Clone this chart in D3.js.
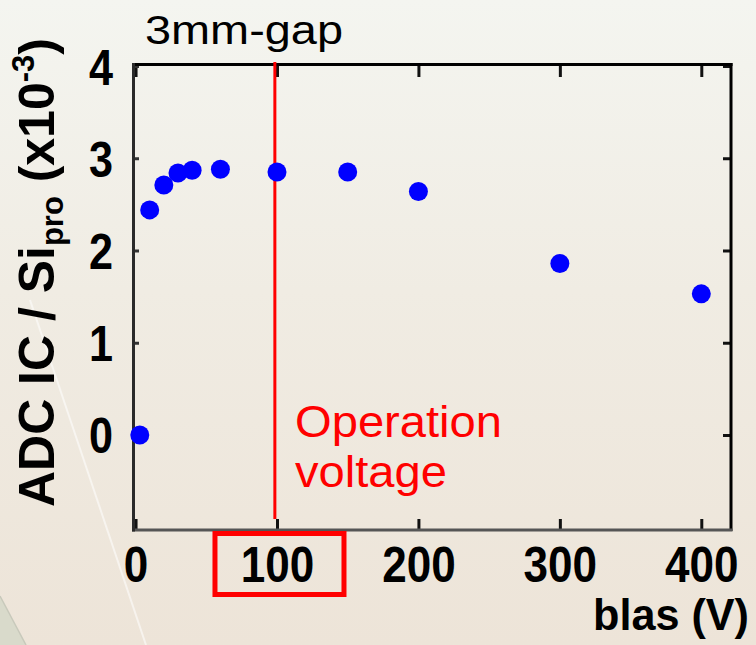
<!DOCTYPE html>
<html>
<head>
<meta charset="utf-8">
<script src="https://cdn.jsdelivr.net/npm/d3@7"></script>
<style>
  html, body { margin: 0; padding: 0; background: #efebe2; }
  svg { display: block; }
  text { font-family: "Liberation Sans", Arial, Helvetica, sans-serif; }
</style>
</head>
<body>
<svg id="chart" width="756" height="645"></svg>
<script>
// Bias scan of the ADC IC signal normalised to the Si reference (3 mm gap)
const biasVolts = [3, 10, 20, 30, 40, 60, 100, 150, 200, 300, 400];
const adcRatio  = [0, 2.44, 2.71, 2.84, 2.87, 2.88, 2.85, 2.85, 2.64, 1.86, 1.53];
const xTickValues = [0, 100, 200, 300, 400];
const yTickValues = [0, 1, 2, 3, 4];
const operationVoltage = 98.5;
const highlightedTick = 100;

const W = 756, H = 645;
const svg = d3.select("#chart");

// background wash
const defs = svg.append("defs");
const grad = defs.append("linearGradient").attr("id", "bg")
  .attr("x1", 0).attr("y1", 0).attr("x2", 0).attr("y2", 1);
grad.append("stop").attr("offset", "0%").attr("stop-color", "#f4f5f0");
grad.append("stop").attr("offset", "45%").attr("stop-color", "#f0ece3");
grad.append("stop").attr("offset", "100%").attr("stop-color", "#ede4d8");
svg.append("rect").attr("width", W).attr("height", H).attr("fill", "url(#bg)");
svg.append("line").attr("x1", 30).attr("y1", 300).attr("x2", 146).attr("y2", 645)
  .attr("stroke", "rgba(255,255,255,0.55)").attr("stroke-width", 2);
svg.append("path").attr("d", "M0,596 L26,645 L0,645 Z").attr("fill", "#d9dacb");
svg.append("line").attr("x1", 0).attr("y1", 596).attr("x2", 26).attr("y2", 645)
  .attr("stroke", "#c8c9bb").attr("stroke-width", 1.5);

// plot frame
const L = 133, R = 731, T = 66, B = 530;
const x = d3.scaleLinear().domain([-1.8, 421]).range([L, R]);
const y = d3.scaleLinear().domain([-1.03, 4]).range([B, T]);

const tickFont = { size: 50, weight: "bold" };
const intFmt = d3.format("d");

// bottom axis
const gx = svg.append("g").attr("transform", `translate(0,${B})`)
  .call(d3.axisBottom(x).tickValues(xTickValues).tickFormat(intFmt)
    .tickSizeInner(-11).tickSizeOuter(0));
gx.select(".domain").remove();
gx.selectAll(".tick line").attr("stroke", "#111").attr("stroke-width", 3);
gx.selectAll(".tick text")
  .attr("y", 52).attr("dy", 0)
  .attr("fill", "#000").attr("font-size", tickFont.size).attr("font-weight", tickFont.weight)
  .attr("font-family", "'Liberation Sans', Arial, sans-serif")
  .attr("textLength", d => String(d).length * 24.5)
  .attr("lengthAdjust", "spacingAndGlyphs");

// top axis (ticks only)
const gxt = svg.append("g").attr("transform", `translate(0,${T})`)
  .call(d3.axisTop(x).tickValues(xTickValues).tickSizeInner(-11).tickSizeOuter(0).tickFormat(""));
gxt.select(".domain").remove();
gxt.selectAll(".tick line").attr("stroke", "#111").attr("stroke-width", 3);

// left axis
const gy = svg.append("g").attr("transform", `translate(${L},0)`)
  .call(d3.axisLeft(y).tickValues(yTickValues).tickFormat(intFmt)
    .tickSizeInner(-6).tickSizeOuter(0));
gy.select(".domain").remove();
gy.selectAll(".tick line").attr("stroke", "#333").attr("stroke-width", 3);
gy.selectAll(".tick text")
  .attr("x", -20).attr("dy", "0.36em")
  .attr("fill", "#000").attr("font-size", tickFont.size).attr("font-weight", tickFont.weight)
  .attr("font-family", "'Liberation Sans', Arial, sans-serif")
  .attr("textLength", 24).attr("lengthAdjust", "spacingAndGlyphs");

// right axis (ticks only)
const gyr = svg.append("g").attr("transform", `translate(${R},0)`)
  .call(d3.axisRight(y).tickValues(yTickValues).tickSizeInner(-8).tickSizeOuter(0).tickFormat(""));
gyr.select(".domain").remove();
gyr.selectAll(".tick line").attr("stroke", "#111").attr("stroke-width", 3);

// frame lines
svg.append("line").attr("x1", L).attr("y1", T - 1.5).attr("x2", R + 1.5).attr("y2", T - 1.5)
  .attr("stroke", "#000").attr("stroke-width", 3);
svg.append("line").attr("x1", R).attr("y1", T - 3).attr("x2", R).attr("y2", B + 1)
  .attr("stroke", "#000").attr("stroke-width", 3);
svg.append("line").attr("x1", L - 1).attr("y1", B).attr("x2", R + 1.5).attr("y2", B)
  .attr("stroke", "#555").attr("stroke-width", 3);
svg.append("line").attr("x1", L + 0.5).attr("y1", T - 3).attr("x2", L + 0.5).attr("y2", B + 1.5)
  .attr("stroke", "#2a2a2a").attr("stroke-width", 3);

// operation voltage marker
svg.append("line")
  .attr("x1", x(operationVoltage)).attr("x2", x(operationVoltage))
  .attr("y1", T - 4).attr("y2", B - 11)
  .attr("stroke", "#ff0000").attr("stroke-width", 3);

// data points
svg.append("g").selectAll("circle")
  .data(biasVolts.map((v, i) => ({ v, r: adcRatio[i] })))
  .join("circle")
  .attr("cx", d => x(d.v)).attr("cy", d => y(d.r))
  .attr("r", 9.5).attr("fill", "#0000ff");

// box around the operating tick label
svg.append("rect")
  .attr("x", x(highlightedTick) - 62).attr("y", B + 3.5)
  .attr("width", 129).attr("height", 61)
  .attr("fill", "none").attr("stroke", "#ff0000").attr("stroke-width", 5);

// title above the frame
svg.append("text").attr("x", 145).attr("y", 44)
  .attr("font-size", 40).attr("fill", "#000")
  .attr("textLength", 198).attr("lengthAdjust", "spacingAndGlyphs")
  .text("3mm-gap");

// annotation
const ann = svg.append("text").attr("fill", "#ff0000").attr("font-size", 44);
ann.append("tspan").attr("x", 295).attr("y", 437)
  .attr("textLength", 207).attr("lengthAdjust", "spacingAndGlyphs").text("Operation");
ann.append("tspan").attr("x", 295).attr("y", 487)
  .attr("textLength", 152).attr("lengthAdjust", "spacingAndGlyphs").text("voltage");

// x-axis title
svg.append("text").attr("x", 749).attr("y", 630).attr("text-anchor", "end")
  .attr("font-size", 44).attr("font-weight", "bold").attr("fill", "#000")
  .attr("textLength", 156).attr("lengthAdjust", "spacingAndGlyphs")
  .text("blas (V)");

// y-axis title with subscript and exponent
const yl = svg.append("g").attr("transform", "translate(54,507) rotate(-90)");
const yt = yl.append("text").attr("x", 0).attr("y", 0)
  .attr("font-size", 50).attr("font-weight", "bold").attr("fill", "#000");
yt.append("tspan").text("ADC IC / Si");
yt.append("tspan").attr("font-size", 31).attr("dy", 9).text("pro");
yt.append("tspan").attr("dy", -9).text(" (x10");
yt.append("tspan").attr("font-size", 31).attr("dy", -20).text("-3");
yt.append("tspan").attr("dy", 20).text(")");
const len = yt.node().getComputedTextLength();
yt.attr("transform", `scale(${469 / len},1)`);
</script>
</body>
</html>
